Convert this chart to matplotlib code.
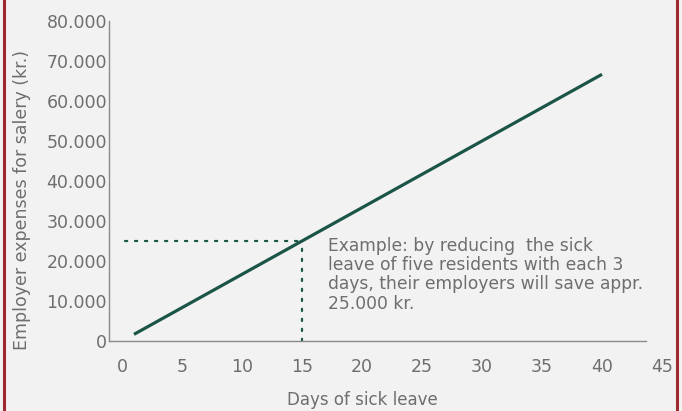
import matplotlib
matplotlib.use("Agg")
import matplotlib.pyplot as plt
from matplotlib.lines import Line2D

# Data
days = [1, 40]
expenses = [1667, 66667]
example_day = 15
example_value = 25000
x_ticks = [0, 5, 10, 15, 20, 25, 30, 35, 40, 45]
y_ticks = [0, 10000, 20000, 30000, 40000, 50000, 60000, 70000, 80000]
y_tick_labels = ["0", "10.000", "20.000", "30.000", "40.000", "50.000", "60.000", "70.000", "80.000"]
annotation = ("Example: by reducing  the sick\nleave of five residents with each 3\n"
              "days, their employers will save appr.\n25.000 kr.")

bg = "#f2f2f2"
green = "#1b5548"
gray = "#6e6e6e"
W, H = 682, 411
fig = plt.figure(figsize=(W / 100, H / 100), dpi=100, facecolor=bg)

left_px, right_px, top_px, bottom_px = 109, 662, 21, 341
ax = fig.add_axes([left_px / W, 1 - bottom_px / H, (right_px - left_px) / W, (bottom_px - top_px) / H])
ax.set_facecolor(bg)
ax.set_xlim(-13 / 12, 45)
ax.set_ylim(0, 80000)

ax.plot(days, expenses, color=green, lw=2.3, solid_capstyle="butt")
ax.plot([0.25, example_day], [example_value, example_value], color=green, lw=1.6,
        linestyle=(0, (1, 3.5)), dash_capstyle="round")
ax.plot([example_day, example_day], [0, example_value], color=green, lw=1.6,
        linestyle=(0, (1, 3.5)), dash_capstyle="round")

ax.text(17.17, 26100, annotation, fontsize=12.3, color=gray, va="top", ha="left",
        linespacing=1.1)

for s in ["top", "right"]:
    ax.spines[s].set_visible(False)
for s in ["left", "bottom"]:
    ax.spines[s].set_color("#8a8a8a")
    ax.spines[s].set_linewidth(1.0)
ax.spines["bottom"].set_bounds(-13 / 12, (646 - 122) / 12)

ax.set_xticks(x_ticks)
ax.set_xticklabels([str(v) for v in x_ticks])
ax.set_yticks(y_ticks)
ax.set_yticklabels(y_tick_labels)
ax.tick_params(axis="both", length=0, labelsize=12.5, colors=gray)
ax.tick_params(axis="x", pad=12)
ax.tick_params(axis="y", pad=1.5)

fig.text(362 / W, 1 - 400 / H, "Days of sick leave", fontsize=12, color=gray,
         ha="center", va="center")
fig.text(22 / W, 1 - 200 / H, "Employer expenses for salery (kr.)", fontsize=12.5,
         color=gray, ha="center", va="center", rotation=90)

border = "#9e2a30"
fig.add_artist(Line2D([4 / W, 4 / W], [0, 1], color=border, lw=2.2, transform=fig.transFigure))
fig.add_artist(Line2D([677 / W, 677 / W], [0, 1], color=border, lw=2.2, transform=fig.transFigure))

fig.savefig("out.png", dpi=100, facecolor=bg)
